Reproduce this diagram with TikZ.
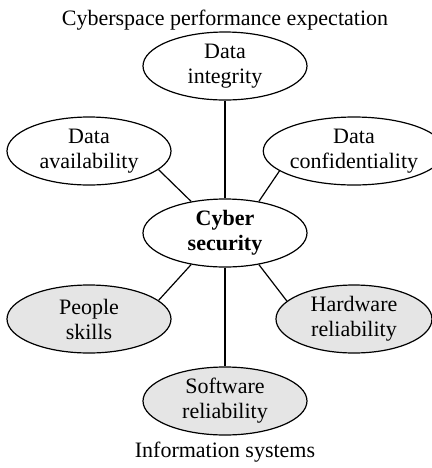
\documentclass[tikz,border=0pt]{standalone}
\usepackage{fontspec}
\setmainfont{Liberation Serif}
\usetikzlibrary{shapes.geometric}
\begin{document}
\begin{tikzpicture}[x=0.5pt,y=-0.5pt,
    goal/.style={shape=ellipse,draw=black,line width=0.6pt,inner sep=0pt,
      minimum width=82pt,minimum height=34pt,align=center,
      font=\fontsize{11}{12.5}\selectfont},
    base/.style={goal,fill=black!10}]
            \useasboundingbox (0,0) rectangle (432,468);
            \node (T) at (225,20) {\fontsize{11}{12.5}\selectfont Cyberspace performance expectation};
            \node (S) at (225,452) {\fontsize{11}{12.5}\selectfont Information systems};

            \node[goal] (I) at (225,66) {Data\\integrity};
            \node[goal] (A) at (89,151) {Data\\availability};
            \node[goal,minimum width=78pt] (C) at (354,151) {Data\\confidentiality};
            \node[goal] (CS) at (225,233) {\bfseries Cyber\\\bfseries security};
            \node[base] (P) at (89,319) {People\\skills};
            \node[base,minimum width=78pt] (H) at (354,319) {Hardware\\reliability};
            \node[base] (SW) at (225,401) {Software\\reliability};

            \path [line width=0.6pt] (I) edge (CS);
            \path [line width=0.6pt] (CS) edge (SW);
            \path [line width=0.6pt] (A.-15) edge (CS.137);
            \path [line width=0.6pt] (C.195) edge (CS.43);
            \path [line width=0.6pt] (P.15) edge (CS.-137);
            \path [line width=0.6pt] (H.165) edge (CS.-43);
        \end{tikzpicture}
\end{document}
